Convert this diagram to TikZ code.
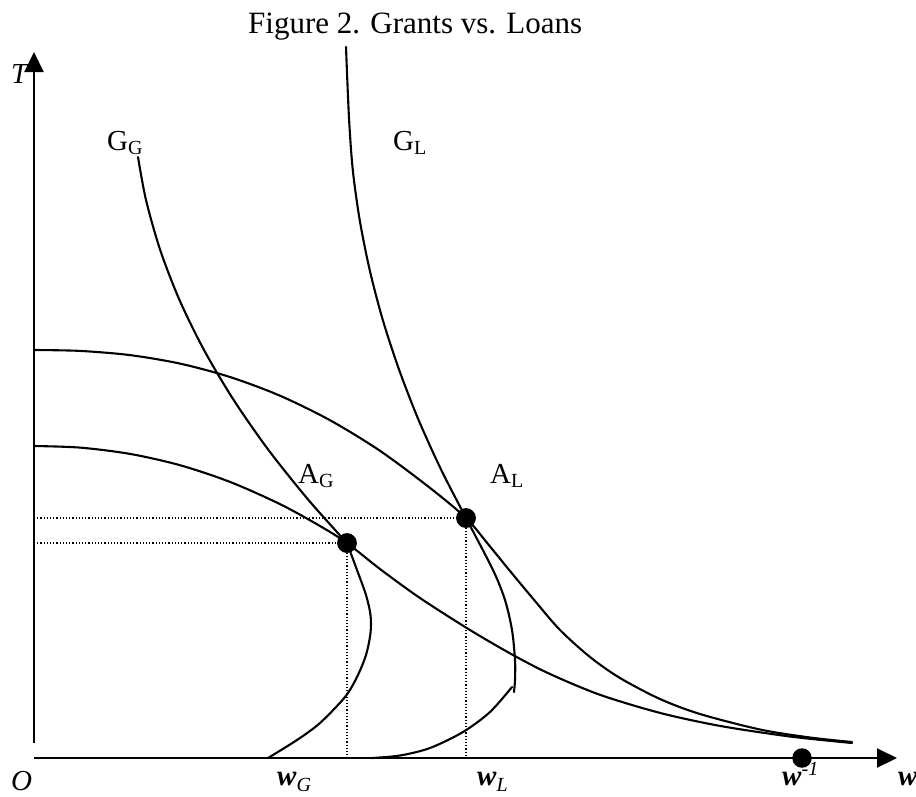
\documentclass[tikz,border=0pt]{standalone}
\usepackage{fontspec}
\setmainfont{Liberation Serif}
\usetikzlibrary{arrows.meta}
\newcommand{\lblsize}{\fontsize{29}{32}\selectfont}
\newcommand{\subsz}{\fontsize{20}{22}\selectfont}
\newcommand{\mysub}[2][4pt]{\raisebox{-#1}{\subsz #2}}
\begin{document}
\begin{tikzpicture}[x=1pt,y=-1pt,
  axis/.style={line width=2.1pt},
  curve/.style={line width=2.1pt, line join=round, line cap=round},
  dotline/.style={line width=1.2pt, dash pattern=on 1.2pt off 2pt},
  dot/.style={circle, fill=black, inner sep=0pt, minimum size=19.5pt},
  lbl/.style={inner sep=0pt, anchor=base west, font=\lblsize},
  tip/.style={-{Triangle[length=20pt,width=19pt]}}]
\useasboundingbox (0,0) rectangle (916,796);
\fill[white] (0,0) rectangle (916,796);

\node[lbl, font=\fontsize{31}{34}\selectfont] (title) at (248,33) {Figure 2. Grants vs. Loans};

% axes
\coordinate (Ytop) at (34,52);
\coordinate (Ybot) at (34,743);
\coordinate (Xl) at (34,758);
\coordinate (Xr) at (897,758);
\draw[axis,tip] (Ybot) -- (Ytop);
\draw[axis,tip] (Xl) -- (Xr);

% outer curve (through A_L)
\draw[curve] plot[smooth] coordinates {(34,350) (80,350.9) (130,355.1) (180,363.6) (230,377) (280,395.7) (330,420.2) (380,450.8) (430,487.9) (466,518) (488,544) (510,571) (535,601) (560,630) (590,657) (620,678) (660,699) (700,714) (760,729.5) (810,737.5) (852,742)};
% inner curve (through A_G)
\draw[curve] plot[smooth] coordinates {(34,446) (80,447.6) (130,453.9) (180,465.2) (230,481.9) (280,504.1) (320,526) (347,543) (380,569) (420,598) (470,630) (513,655) (550,674) (600,694.8) (660,712.9) (720,725.9) (790,736.5) (852,743)};
% G_G
\draw[curve] plot[smooth] coordinates {(138,157) (146,200) (160.2,250) (179.5,300) (204,350) (233.7,400) (268.5,450) (308.5,500) (347,543)};
\draw[curve] plot[smooth] coordinates {(347,543) (357,570) (366,595) (370.5,615) (370.5,633) (366,655) (357,677) (345,697) (320,723) (297,740) (268,758)};
% G_L upper
\draw[curve] plot[smooth] coordinates {(346,47) (349,118) (352.8,170) (359.7,220) (369.7,270) (382.8,320) (399.2,370) (418.6,420) (441.3,470) (466,518) (493,570) (505,600) (512,630) (515,660) (515,680) (514,692)};
% G_L lower
\draw[curve] plot[smooth] coordinates {(512,687) (490,712) (463,732) (430,748) (400,755.5) (372,758)};

% dotted guides
\coordinate (yAL) at (34,518);
\coordinate (yAG) at (34,543);
\coordinate (xAL) at (466,758);
\coordinate (xAG) at (347,758);
\node[dot] (AG) at (347,543) {};
\node[dot] (AL) at (466,518) {};
\draw[dotline] (yAL) -- (AL.center);
\draw[dotline] (yAG) -- (AG.center);
\draw[dotline] (AL.center) -- (xAL);
\draw[dotline] (AG.center) -- (xAG);
\node[dot] at (AG) {};
\node[dot] at (AL) {};
\node[dot] (winv) at (802,758) {};

% labels
\node[lbl] (T) at (11,83) {\itshape T};
\node[lbl] (GG) at (107,150) {G\mysub{G}};
\node[lbl] (GL) at (393,150) {G\mysub{L}};
\node[lbl] (AGl) at (298,483) {A\mysub{G}};
\node[lbl] (ALl) at (490,483) {A\mysub{L}};
\node[lbl] (O) at (11,790) {\itshape O};
\node[lbl] (wG) at (277,785) {\textbf{\textit{w}}\mysub[6pt]{\itshape G}};
\node[lbl] (wL) at (477,785) {\textbf{\textit{w}}\mysub[6pt]{\itshape L}};
\node[lbl] (wi) at (782,785) {\textbf{\textit{w}}\raisebox{10pt}{\subsz\itshape -1}};
\node[lbl] (w) at (898,785) {\textbf{\textit{w}}};
\end{tikzpicture}
\end{document}
